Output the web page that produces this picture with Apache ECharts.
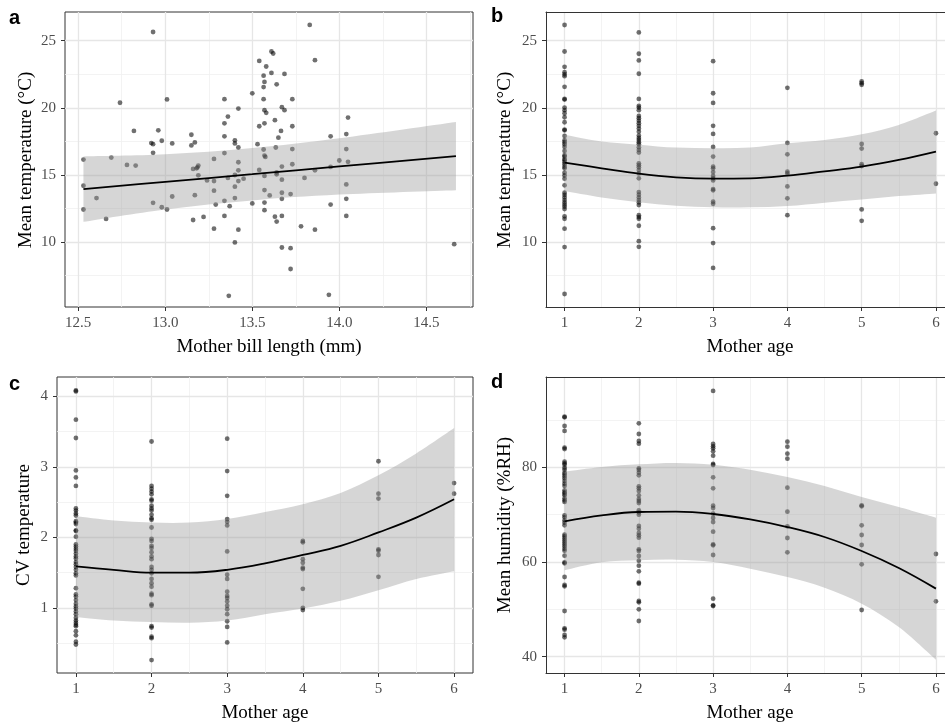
<!DOCTYPE html>
<html><head><meta charset="utf-8">
<script src="https://cdn.jsdelivr.net/npm/echarts@6/dist/echarts.min.js"></script>
<style>html,body{margin:0;padding:0;background:#fff}#c{width:945px;height:724px}</style>
</head><body><div id="c"></div>
<script>
// ---------- DATA ----------
const ages = [1, 2, 3, 4, 5, 6];

// Panel a: mother bill length (mm) vs mean temperature (°C)
const billLength = [12.53,12.53,12.53,12.605,12.66,12.69,12.74,12.78,12.82,12.83,12.92,12.93,12.93,12.93,12.96,12.93,12.98,12.98,13.01,13.01,13.04,13.04,13.15,13.15,13.17,13.16,13.18,13.185,13.19,13.17,13.16,13.19,13.22,13.24,13.28,13.28,13.28,13.28,13.29,13.34,13.34,13.34,13.34,13.34,13.34,13.36,13.36,13.365,13.37,13.4,13.4,13.4,13.4,13.4,13.4,13.42,13.42,13.42,13.42,13.42,13.42,13.45,13.5,13.5,13.53,13.54,13.54,13.54,13.565,13.565,13.57,13.565,13.57,13.58,13.57,13.565,13.57,13.575,13.57,13.57,13.57,13.57,13.58,13.61,13.61,13.62,13.63,13.6,13.63,13.64,13.635,13.64,13.64,13.64,13.65,13.665,13.67,13.685,13.685,13.67,13.67,13.67,13.67,13.67,13.67,13.72,13.72,13.72,13.73,13.73,13.73,13.73,13.78,13.8,13.83,13.86,13.86,13.86,13.95,13.95,13.95,13.94,14.0,14.04,14.04,14.04,14.04,14.04,14.05,14.05,14.66];
const billTemp =   [16.15,14.2,12.43,13.28,11.73,16.3,20.38,15.75,18.28,15.7,17.38,25.65,17.3,16.65,18.33,12.93,17.55,12.6,20.63,12.43,17.35,13.4,18.0,17.2,17.43,15.45,15.5,15.57,15.7,13.5,11.65,14.98,11.88,14.6,16.2,14.55,13.83,11.0,12.8,20.65,18.85,17.88,16.63,13.08,11.95,19.35,14.78,6.0,12.68,17.58,17.35,15.0,14.13,13.28,9.98,19.95,17.05,15.95,15.35,14.55,10.93,14.73,21.08,12.88,17.3,23.5,18.63,15.38,22.4,21.55,21.93,20.65,19.83,19.63,18.85,16.9,16.45,16.35,14.93,13.88,12.95,12.38,23.08,22.6,24.2,24.05,19.08,13.48,11.9,21.75,17.05,15.05,15.2,11.53,17.78,18.28,20.05,19.83,22.53,15.63,14.65,13.68,13.23,11.95,9.6,13.58,9.55,8.0,20.65,18.63,16.93,15.8,11.18,14.78,26.18,23.55,15.35,10.93,17.88,15.6,12.8,6.08,16.08,18.05,16.93,14.3,13.23,11.95,19.28,15.98,9.85];
const billFitX   = [12.53, 13.0, 13.5, 14.0, 14.67];
const billFit    = [13.95, 14.49, 15.06, 15.64, 16.41];
const billUpper  = [16.38, 16.54, 17.01, 17.74, 18.95];
const billLower  = [11.52, 12.44, 13.11, 13.54, 13.87];

// Panel b: mother age vs mean temperature (°C)
const tempByAge = [
  [26.17,24.2,23.06,22.66,22.49,22.36,21.57,20.67,20.62,20.02,19.83,19.6,19.3,18.93,18.38,18.33,17.91,17.59,17.44,17.29,17.09,16.79,16.47,16.37,16.19,16.09,15.95,15.8,15.62,15.5,15.17,14.97,14.73,14.23,13.68,13.51,13.33,13.13,12.96,12.79,12.64,12.46,11.92,11.74,11.0,9.63,6.14],
  [25.62,24.03,23.53,22.54,20.67,20.15,20.02,19.83,19.4,19.23,19.05,18.86,18.66,18.46,18.23,17.94,17.76,17.61,17.44,17.29,17.06,16.87,16.67,15.87,15.72,15.57,15.37,15.12,14.75,13.73,13.53,13.33,13.13,12.96,12.76,12.01,11.87,11.74,11.22,10.07,9.65],
  [23.48,21.09,20.37,18.66,18.06,17.09,16.37,15.62,15.5,15.22,14.93,14.75,14.6,13.95,13.86,13.01,12.86,11.04,9.93,8.08],
  [21.49,17.39,16.54,15.25,15.12,14.15,13.26,12.01],
  [21.97,21.84,21.72,17.31,16.97,15.8,15.67,12.44,11.59],
  [18.11,14.35]
];
const fitAgeX   = [1, 1.5, 2, 2.5, 3, 3.5, 4, 4.5, 5, 5.5, 6];
const tempFit   = [15.92,15.5,15.1,14.83,14.73,14.75,14.95,15.27,15.62,16.12,16.74];
const tempUpper = [17.99,17.49,17.26,17.04,16.99,17.04,17.36,17.61,18.03,18.73,19.8];
const tempLower = [13.81,13.33,12.98,12.71,12.59,12.59,12.69,12.94,13.18,13.43,13.63];

// Panel c: mother age vs CV temperature
const cvByAge = [
  [4.085,4.07,3.67,3.41,2.95,2.85,2.73,2.41,2.38,2.34,2.31,2.23,2.21,2.19,2.10,2.09,2.01,1.90,1.87,1.84,1.81,1.77,1.73,1.70,1.65,1.62,1.58,1.54,1.49,1.46,1.28,1.19,1.16,1.11,1.06,1.02,0.99,0.95,0.91,0.86,0.82,0.79,0.76,0.74,0.67,0.61,0.52,0.48],
  [3.36,2.73,2.69,2.65,2.61,2.54,2.52,2.45,2.41,2.38,2.32,2.27,2.25,2.14,1.98,1.95,1.88,1.85,1.79,1.73,1.69,1.58,1.54,1.49,1.41,1.35,1.30,1.20,1.18,1.05,1.03,0.74,0.72,0.59,0.57,0.26],
  [3.40,2.94,2.59,2.26,2.22,2.17,1.80,1.47,1.41,1.23,1.17,1.14,1.09,1.03,0.98,0.91,0.81,0.73,0.51],
  [1.95,1.93,1.69,1.64,1.57,1.55,1.27,1.00,0.97],
  [3.08,2.62,2.55,1.83,1.81,1.75,1.44],
  [2.77,2.62]
];
const cvFit   = [1.59,1.54,1.50,1.50,1.54,1.63,1.75,1.88,2.07,2.28,2.54];
const cvUpper = [2.30,2.24,2.21,2.21,2.26,2.36,2.47,2.63,2.88,3.19,3.55];
const cvLower = [0.87,0.82,0.80,0.79,0.82,0.91,0.99,1.10,1.25,1.41,1.52];

// Panel d: mother age vs mean humidity (%RH)
const humByAge = [
  [90.70,90.56,88.73,87.68,84.15,83.87,81.20,80.85,80.56,79.93,79.51,78.87,78.52,78.10,77.68,77.11,76.55,76.06,75.14,74.72,74.44,74.08,73.45,73.03,72.68,69.86,69.44,68.80,68.31,67.75,65.77,65.42,65.00,64.58,64.15,63.73,63.31,62.82,62.39,61.34,59.93,59.72,56.83,55.14,54.86,49.65,45.99,45.70,44.58,44.08],
  [89.30,87.04,85.56,85.0,79.79,79.44,78.87,78.31,75.99,75.56,75.0,74.08,73.31,72.89,72.46,70.92,70.49,70.0,67.61,67.04,66.13,65.63,65.14,62.68,62.32,61.27,60.28,59.23,58.03,55.63,55.42,51.76,51.48,50.0,47.54],
  [96.13,84.93,84.44,84.01,83.38,82.46,80.70,80.49,77.89,75.56,71.90,71.41,70.21,69.30,68.45,66.41,63.73,63.52,61.48,52.25,50.85,50.70],
  [85.42,84.37,82.89,81.83,75.70,70.63,67.54,65.07,62.04],
  [71.97,71.76,67.75,65.70,63.59,59.51,49.86],
  [61.69,51.69]
];
const humFit   = [68.59,69.86,70.56,70.63,70.14,69.01,67.39,65.28,62.32,58.73,54.37];
const humUpper = [79.08,80.07,80.63,80.92,80.56,79.51,77.96,76.06,73.73,71.62,69.37];
const humLower = [58.24,59.93,60.35,60.49,60.0,58.59,56.83,54.58,51.20,46.27,39.37];

// Axis tick labels
const billTicks = [12.5, 13.0, 13.5, 14.0, 14.5];
const billMinor = [12.75, 13.25, 13.75, 14.25, 14.75];
const ageTicks = [1, 2, 3, 4, 5, 6];
const ageMinor = [1.5, 2.5, 3.5, 4.5, 5.5];
const tempTicks = [10, 15, 20, 25];
const tempMinor = [7.5, 12.5, 17.5, 22.5];
const cvTicks = [1, 2, 3, 4];
const cvMinor = [0.5, 1.5, 2.5, 3.5];
const humTicks = [40, 60, 80];
const humMinor = [50, 70, 90];

// ---------- CHART ----------
const chart = echarts.init(document.getElementById('c'), null, {renderer: 'canvas'});
const SERIF = 'Liberation Serif';
const LABEL_COLOR = '#4d4d4d';
const BORDER = '#333333';
// Right-hand panels run past the right edge of the picture (cropped in the original),
// so their grids end at the canvas edge and the x range is cut accordingly.
const grids = [
  {left: 65, top: 12, width: 408, height: 295, show: true},
  {left: 546, top: 12, width: 399, height: 295, show: false},
  {left: 57, top: 377, width: 416, height: 296, show: true},
  {left: 546, top: 377, width: 399, height: 296, show: false}
];
const xRanges = [[12.424, 14.768], [0.75, 6.122], [0.75, 6.25], [0.75, 6.122]];
const yRanges = [[5.17, 27.14], [5.17, 27.14], [0.076, 4.275], [36.55, 99.08]];
const xTickSets = [billTicks, ageTicks, ageTicks, ageTicks];
const xMinorSets = [billMinor, ageMinor, ageMinor, ageMinor];
const yTickSets = [tempTicks, tempTicks, cvTicks, humTicks];
const yMinorSets = [tempMinor, tempMinor, cvMinor, humMinor];

function axisCommon(ticks, showLine) {
  return {
    axisLine: {show: showLine, onZero: false, lineStyle: {color: BORDER, width: 1}},
    axisTick: {show: true, length: 4, customValues: ticks, lineStyle: {color: BORDER, width: 1}},
    splitLine: {show: false},
    axisLabel: {customValues: ticks, color: LABEL_COLOR, fontFamily: SERIF, fontSize: 15}
  };
}

const xAxes = [], yAxes = [], series = [];
for (let i = 0; i < 4; i++) {
  const open = !grids[i].show;
  const xa = axisCommon(xTickSets[i], open);
  xa.type = 'value'; xa.gridIndex = i; xa.min = xRanges[i][0]; xa.max = xRanges[i][1];
  xa.position = 'bottom';
  xa.axisLabel.margin = 9;
  if (i === 0) xa.axisLabel.formatter = v => v.toFixed(1);
  xAxes.push(xa);
  const ya = axisCommon(yTickSets[i], open);
  ya.type = 'value'; ya.gridIndex = i; ya.min = yRanges[i][0]; ya.max = yRanges[i][1];
  ya.position = 'left';
  ya.axisLabel.margin = 9;
  yAxes.push(ya);

  // gridlines
  const gl = [];
  xMinorSets[i].forEach(v => gl.push({xAxis: v, lineStyle: {color: '#f0f0f0', width: 0.8, type: 'solid'}}));
  yMinorSets[i].forEach(v => gl.push({yAxis: v, lineStyle: {color: '#f0f0f0', width: 0.8, type: 'solid'}}));
  xTickSets[i].forEach(v => gl.push({xAxis: v, lineStyle: {color: '#e6e6e6', width: 1.3, type: 'solid'}}));
  yTickSets[i].forEach(v => gl.push({yAxis: v, lineStyle: {color: '#e6e6e6', width: 1.3, type: 'solid'}}));
  series.push({
    type: 'line', xAxisIndex: i, yAxisIndex: i, data: [], z: 0, silent: true,
    markLine: {silent: true, z: 0, symbol: ['none', 'none'], label: {show: false}, animation: false, data: gl}
  });
}
// top border lines for the open (cropped) panels
[1, 3].forEach(i => {
  xAxes.push({
    type: 'value', gridIndex: i, position: 'top', min: xRanges[i][0], max: xRanges[i][1],
    axisLine: {show: true, onZero: false, lineStyle: {color: BORDER, width: 1}},
    axisTick: {show: false}, axisLabel: {show: false}, splitLine: {show: false}
  });
});

function zipXY(xs, ys) { return xs.map((x, k) => [x, ys[k]]); }
function byAge(groups) {
  const out = [];
  groups.forEach((vals, k) => vals.forEach(v => out.push([ages[k], v])));
  return out;
}

// Catmull-Rom spline through pixel points -> path commands (continuing path)
function splineCmds(pts) {
  let d = '';
  for (let k = 0; k < pts.length - 1; k++) {
    const p0 = pts[Math.max(k - 1, 0)], p1 = pts[k], p2 = pts[k + 1], p3 = pts[Math.min(k + 2, pts.length - 1)];
    const c1 = [p1[0] + (p2[0] - p0[0]) / 6, p1[1] + (p2[1] - p0[1]) / 6];
    const c2 = [p2[0] - (p3[0] - p1[0]) / 6, p2[1] - (p3[1] - p1[1]) / 6];
    d += ' C' + c1[0] + ' ' + c1[1] + ' ' + c2[0] + ' ' + c2[1] + ' ' + p2[0] + ' ' + p2[1];
  }
  return d;
}

const panels = [
  {pts: zipXY(billLength, billTemp), fx: billFitX, fit: billFit, up: billUpper, lo: billLower},
  {pts: byAge(tempByAge), fx: fitAgeX, fit: tempFit, up: tempUpper, lo: tempLower},
  {pts: byAge(cvByAge), fx: fitAgeX, fit: cvFit, up: cvUpper, lo: cvLower},
  {pts: byAge(humByAge), fx: fitAgeX, fit: humFit, up: humUpper, lo: humLower}
];

panels.forEach((p, i) => {
  series.push({
    type: 'scatter', xAxisIndex: i, yAxisIndex: i, data: p.pts, symbolSize: 4.8, z: 2,
    itemStyle: {color: 'rgba(0,0,0,0.7)'}, silent: true
  });
  // confidence band
  const bandData = p.fx.map((x, k) => [x, p.lo[k], p.up[k]]);
  series.push({
    type: 'custom', xAxisIndex: i, yAxisIndex: i, z: 3, silent: true,
    data: [bandData[0]],
    renderItem: function (params, api) {
      const upPts = bandData.map(r => api.coord([r[0], r[2]]));
      const loPts = bandData.map(r => api.coord([r[0], r[1]])).reverse();
      let d = 'M' + upPts[0][0] + ' ' + upPts[0][1] + splineCmds(upPts);
      d += ' L' + loPts[0][0] + ' ' + loPts[0][1] + splineCmds(loPts) + ' Z';
      return {type: 'path', shape: {pathData: d}, style: {fill: 'rgba(153,153,153,0.4)', stroke: null}};
    }
  });
  series.push({
    type: 'line', xAxisIndex: i, yAxisIndex: i, data: zipXY(p.fx, p.fit),
    symbol: 'none', smooth: 0.4, lineStyle: {color: '#000', width: 1.8}, z: 4, silent: true
  });
});

const titleStyle = {fontFamily: SERIF, fontSize: 19, fill: '#000'};
const letterStyle = {fontFamily: 'Liberation Sans', fontWeight: 'bold', fontSize: 20, fill: '#000'};
const graphics = [
  {type: 'text', left: 9, top: 8, style: Object.assign({text: 'a'}, letterStyle)},
  {type: 'text', left: 491, top: 6, style: Object.assign({text: 'b'}, letterStyle)},
  {type: 'text', left: 9, top: 374, style: Object.assign({text: 'c'}, letterStyle)},
  {type: 'text', left: 491, top: 372, style: Object.assign({text: 'd'}, letterStyle)},
  {type: 'text', x: 269, y: 347, style: Object.assign({text: 'Mother bill length (mm)', align: 'center', verticalAlign: 'middle'}, titleStyle)},
  {type: 'text', x: 750, y: 347, style: Object.assign({text: 'Mother age', align: 'center', verticalAlign: 'middle'}, titleStyle)},
  {type: 'text', x: 265, y: 713, style: Object.assign({text: 'Mother age', align: 'center', verticalAlign: 'middle'}, titleStyle)},
  {type: 'text', x: 750, y: 713, style: Object.assign({text: 'Mother age', align: 'center', verticalAlign: 'middle'}, titleStyle)},
  {type: 'text', x: 26, y: 160, rotation: Math.PI / 2, style: Object.assign({text: 'Mean temperature (°C)', align: 'center', verticalAlign: 'middle'}, titleStyle)},
  {type: 'text', x: 505, y: 160, rotation: Math.PI / 2, style: Object.assign({text: 'Mean temperature (°C)', align: 'center', verticalAlign: 'middle'}, titleStyle)},
  {type: 'text', x: 24, y: 525, rotation: Math.PI / 2, style: Object.assign({text: 'CV temperature', align: 'center', verticalAlign: 'middle'}, titleStyle)},
  {type: 'text', x: 505, y: 525, rotation: Math.PI / 2, style: Object.assign({text: 'Mean humidity (%RH)', align: 'center', verticalAlign: 'middle'}, titleStyle)}
];

chart.setOption({
  animation: false,
  backgroundColor: '#ffffff',
  grid: grids.map(g => Object.assign({borderColor: BORDER, borderWidth: 1, backgroundColor: 'transparent', containLabel: false}, g)),
  xAxis: xAxes,
  yAxis: yAxes,
  series: series,
  graphic: graphics
});
</script>
</body></html>
